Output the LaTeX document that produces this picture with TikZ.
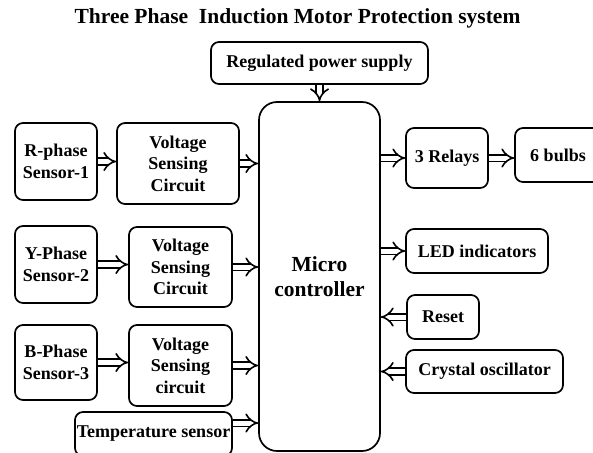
\documentclass[tikz,border=0pt]{standalone}
\usepackage{fontspec}
\setmainfont{Liberation Serif}
\usetikzlibrary{arrows.meta}

\begin{document}
\begin{tikzpicture}[x=1pt, y=-1pt, >={Implies[scale=1.7]},
        blk/.style={draw, line width=1.7pt, rounded corners=8pt, align=center, inner sep=2pt,
            font=\bfseries\fontsize{18}{21.6}\selectfont},
        fat/.style={double, double distance=5pt, line width=1.6pt, ->}]
        \useasboundingbox (0,0) rectangle (593,452);
        \clip (0,0) rectangle (593,452);
        \node[font=\bfseries\fontsize{21.5}{25}\selectfont] (title) at (297.5,18) {Three Phase\ \ Induction Motor Protection system};
        \node[blk, minimum width=217pt, minimum height=42pt] (psu) at (319.5,63) {Regulated power supply};
        \node[blk, rounded corners=18pt, minimum width=121pt, minimum height=349pt,
            font=\bfseries\fontsize{21.5}{25}\selectfont] (mcu) at (319.5,276.5) {Micro\\controller};
        \node[blk, minimum width=82pt, minimum height=77pt]  (rph)   at (56,161.5)    {R-phase\\Sensor-1};
        \node[blk, minimum width=122pt, minimum height=81pt] (vs1)   at (178,163.5)   {Voltage\\Sensing\\Circuit};
        \node[blk, minimum width=82pt, minimum height=77pt]  (yph)   at (56,264.5)    {Y-Phase\\Sensor-2};
        \node[blk, minimum width=103pt, minimum height=80pt] (vs2)   at (180.5,267)   {Voltage\\Sensing\\Circuit};
        \node[blk, minimum width=82pt, minimum height=75pt]  (bph)   at (56,362.5)    {B-Phase\\Sensor-3};
        \node[blk, minimum width=103pt, minimum height=81pt] (vs3)   at (180.5,365.5) {Voltage\\Sensing\\circuit};
        \node[blk, minimum width=157pt, minimum height=44pt, inner sep=0pt] (temp) at (153.5,434) {Temperature sensor};
        \node[blk, minimum width=82pt, minimum height=60pt]  (relay) at (447,158)     {3 Relays};
        \node[blk, minimum width=86pt, minimum height=54pt]  (bulb)  at (558,155)     {6 bulbs};
        \node[blk, minimum width=142pt, minimum height=44pt] (led)   at (477,251)     {LED indicators};
        \node[blk, minimum width=72pt, minimum height=44pt]  (reset) at (443,317)     {Reset};
        \node[blk, minimum width=157pt, minimum height=43pt] (xtal)  at (484.5,371.5) {Crystal oscillator};
        \draw[fat] (psu.south)  -- (psu.south |- mcu.north);
        \draw[fat] (rph.east)   -- (rph.east -| vs1.west);
        \draw[fat] (vs1.east)   -- (vs1.east -| mcu.west);
        \draw[fat] (yph.east)   -- (yph.east -| vs2.west);
        \draw[fat] (vs2.east)   -- (vs2.east -| mcu.west);
        \draw[fat] (bph.east)   -- (bph.east -| vs3.west);
        \draw[fat] (vs3.east)   -- (vs3.east -| mcu.west);
        \draw[fat] ([yshift=11pt]temp.east) -- ([yshift=11pt]temp.east -| mcu.west);
        \draw[fat] (relay.west -| mcu.east) -- (relay.west);
        \draw[fat] (relay.east) -- (relay.east -| bulb.west);
        \draw[fat] (led.west -| mcu.east)   -- (led.west);
        \draw[fat] (reset.west) -- (reset.west -| mcu.east);
        \draw[fat] (xtal.west)  -- (xtal.west -| mcu.east);
    \end{tikzpicture}
\end{document}
